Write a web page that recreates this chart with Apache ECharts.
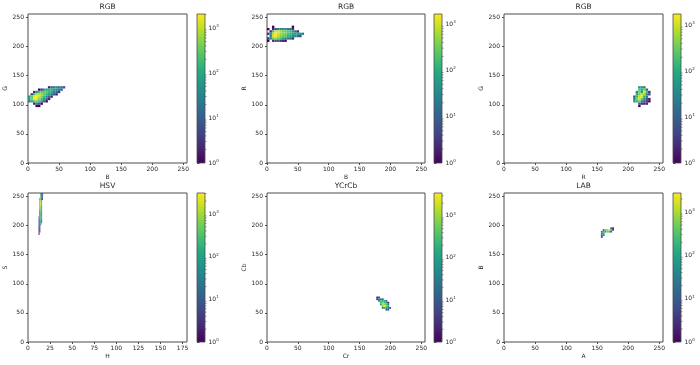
<!DOCTYPE html>
<html><head><meta charset="utf-8">
<script src="https://cdn.jsdelivr.net/npm/echarts@6/dist/echarts.min.js"></script>
<style>html,body{margin:0;padding:0;background:#fff}#c{width:700px;height:365px}</style>
</head><body><div id="c"></div>
<script>
const titles = ['RGB','RGB','RGB','HSV','YCrCb','LAB'];
const xNames = ['B','B','R','H','Cr','A'];
const yNames = ['G','R','G','S','Cb','B'];
const xMaxes = [256,256,256,180,256,256];
const yMax = 256;
const ticks256 = [0,50,100,150,200,250];
const ticksH = [0,25,50,75,100,125,150,175];
const cbMax = [2040,1650,1740,3100,3500,2750];
const cbMajor = [0,1,2,3];
const cbMinorMult = [2,3,4,5,6,7,8,9];

// 2D histogram blocks: x0,y0 = lower-left of lowest row; bin widths; rows listed top -> bottom
const rgb1X0 = 0, rgb1Y0 = 96, rgb1BW = [4,4];
const rgb1Counts = [
 [0,0,0,0,0,0,0,0,2,15,25,30,25,15,8],
 [0,0,0,0,1,3,40,80,120,100,60,40,20,10,0],
 [0,0,2,30,200,300,300,250,150,80,40,10,3,0,0],
 [0,5,150,800,900,500,300,120,60,20,5,2,0,0,0],
 [30,300,1500,2000,1000,400,150,40,10,2,0,0,0,0,0],
 [60,400,1800,1500,600,200,60,15,2,0,0,0,0,0,0],
 [20,100,300,400,250,80,10,1,0,0,0,0,0,0,0],
 [0,0,2,30,10,1,0,0,0,0,0,0,0,0,0],
 [0,0,0,1,1,0,0,0,0,0,0,0,0,0,0]
];
const rgb2X0 = 0, rgb2Y0 = 208, rgb2BW = [4,4];
const rgb2Counts = [
 [0,0,1,0,0,0,0,0,0,0,1,0,0,0,0],
 [1,0,2,5,20,30,40,30,20,10,3,0,0,0,0],
 [0,2,200,900,1200,600,400,300,250,150,60,10,2,0,0],
 [3,40,800,1600,1000,500,400,300,200,120,80,60,60,40,20],
 [0,30,1000,1500,800,400,300,200,120,80,40,30,15,4,0],
 [2,20,300,500,300,150,60,30,20,8,2,0,0,0,0],
 [1,0,3,8,10,3,2,1,0,0,0,0,0,0,0]
];
const rgb3X0 = 204, rgb3Y0 = 96, rgb3BW = [4,4];
const rgb3Counts = [
 [0,0,0,40,60,20,0,0],
 [0,0,0,200,100,300,10,0],
 [0,0,30,400,60,1500,200,3],
 [0,0,80,300,900,500,40,5],
 [0,5,150,800,1200,100,20,0],
 [0,20,400,1200,300,60,8,2],
 [0,40,150,300,40,10,3,1],
 [0,0,0,10,3,2,2,0],
 [0,0,0,1,0,0,0,0]
];
const hsvX0 = 12, hsvY0 = 184, hsvBW = [1,4];
const hsvCounts = [
 [0,0,30,8,5],
 [0,0,100,10,6],
 [0,20,400,6,4],
 [0,40,2000,100,0],
 [0,60,2500,200,0],
 [0,100,1500,150,0],
 [0,80,1000,80,0],
 [0,2,600,50,0],
 [0,1,400,40,0],
 [0,2,300,30,0],
 [5,60,200,40,0],
 [3,30,150,20,0],
 [2,20,100,10,0],
 [2,10,60,0,0],
 [1,8,0,0,0],
 [1,5,0,0,0],
 [1,3,0,0,0],
 [1,0,0,0,0]
];
const ycrcbX0 = 177, ycrcbY0 = 54, ycrcbBW = [3,3];
const ycrcbCounts = [
 [2,5,0,0,0,0,0,0],
 [3,30,40,10,0,0,0,0],
 [0,20,300,150,80,10,0,0],
 [0,0,200,600,300,100,1,0],
 [0,0,40,1500,800,300,30,0],
 [0,0,0,400,3000,500,60,0],
 [0,0,0,20,100,80,20,5],
 [0,0,0,0,0,5,8,0]
];
const labX0 = 156, labY0 = 179, labBW = [3,3];
const labCounts = [
 [0,0,0,0,0,20,3],
 [0,10,400,800,2700,300,5],
 [20,200,100,600,200,10,0],
 [30,80,0,0,0,0,0],
 [10,40,0,0,0,0,0],
 [5,0,0,0,0,0,0]
];

const blocks = [
 {x0: rgb1X0, y0: rgb1Y0, bw: rgb1BW, rows: rgb1Counts},
 {x0: rgb2X0, y0: rgb2Y0, bw: rgb2BW, rows: rgb2Counts},
 {x0: rgb3X0, y0: rgb3Y0, bw: rgb3BW, rows: rgb3Counts},
 {x0: hsvX0, y0: hsvY0, bw: hsvBW, rows: hsvCounts},
 {x0: ycrcbX0, y0: ycrcbY0, bw: ycrcbBW, rows: ycrcbCounts},
 {x0: labX0, y0: labY0, bw: labBW, rows: labCounts}
];
function toData(b){
  const out=[]; const n=b.rows.length;
  b.rows.forEach((row,i)=>row.forEach((c,j)=>{
    if(c>0) out.push([b.x0+j*b.bw[0], b.y0+(n-1-i)*b.bw[1], Math.log10(c)]);
  }));
  return out;
}

const viridis = ['#440154','#482475','#414487','#355f8d','#2a788e','#21918c','#22a884','#44bf70','#7ad151','#bddf26','#fde725'];
const FONT = 'DejaVu Sans';
const TXT = '#262626';
const LINE = '#4d4d4d';

const plotLeft = [28, 267, 504], plotW = [159, 158, 159];
const rowTop = [14, 193], plotH = 149;
const cbLeft = [197, 434, 673], cbW = 8;

const chart = echarts.init(document.getElementById('c'), null, {renderer:'canvas', width:700, height:365});
const grid=[], xAxis=[], yAxis=[], series=[], visualMap=[], title=[];

for (let i=0;i<6;i++){
  const col=i%3, row=Math.floor(i/3);
  grid.push({left:plotLeft[col], top:rowTop[row], width:plotW[col], height:plotH, show:true, borderColor:LINE, borderWidth:1, backgroundColor:'#fff'});
  title.push({text:titles[i], left:plotLeft[col]+plotW[col]/2, top:rowTop[row]-11, textAlign:'center', padding:0,
    textStyle:{fontSize:7.5, fontWeight:'normal', color:TXT, fontFamily:FONT}});
  const xt = xMaxes[i]===180 ? ticksH : ticks256;
  xAxis.push({type:'value', gridIndex:i, min:0, max:xMaxes[i], axisLine:{show:false}, splitLine:{show:false},
    axisTick:{show:true, length:2, customValues:xt, lineStyle:{color:LINE}},
    axisLabel:{customValues:xt, fontSize:6, margin:3, color:TXT, fontFamily:FONT},
    name:xNames[i], nameLocation:'middle', nameGap:11.5, nameTextStyle:{fontSize:6, color:TXT, fontFamily:FONT}});
  yAxis.push({type:'value', gridIndex:i, min:0, max:yMax, axisLine:{show:false}, splitLine:{show:false},
    axisTick:{show:true, length:2, customValues:ticks256, lineStyle:{color:LINE}},
    axisLabel:{customValues:ticks256, fontSize:6, margin:4, color:TXT, fontFamily:FONT},
    name:yNames[i], nameLocation:'middle', nameGap:18, nameTextStyle:{fontSize:6, color:TXT, fontFamily:FONT}});
  const b = blocks[i];
  series.push({type:'custom', xAxisIndex:i, yAxisIndex:i, clip:true, data:toData(b),
    encode:{x:0, y:1},
    renderItem:(params, api)=>{
      const x=api.value(0), y=api.value(1);
      const p0=api.coord([x, y+b.bw[1]]), p1=api.coord([x+b.bw[0], y]);
      return {type:'rect', shape:{x:p0[0], y:p0[1], width:p1[0]-p0[0], height:p1[1]-p0[1]}, style:{fill:api.visual('color')}};
    }});
  const lm = Math.log10(cbMax[i]);
  visualMap.push({type:'continuous', show:false, min:0, max:lm, dimension:2, seriesIndex:i, inRange:{color:viridis}});
}
for (let i=0;i<6;i++){
  const col=i%3, row=Math.floor(i/3);
  const gi = 6+i;
  const lm = Math.log10(cbMax[i]);
  grid.push({left:cbLeft[col], top:rowTop[row], width:cbW, height:plotH, show:false});
  xAxis.push({type:'value', gridIndex:gi, min:0, max:1, show:false});
  yAxis.push({type:'value', gridIndex:gi, min:0, max:lm, position:'right', axisLine:{show:false}, splitLine:{show:false},
    axisTick:{show:true, length:2.5, customValues:cbMajor, lineStyle:{color:LINE}},
    axisLabel:{customValues:cbMajor, margin:3.5, color:TXT, fontFamily:FONT,
      formatter:v=>'{a|10}{b|'+Math.round(v)+'}',
      rich:{a:{fontSize:6, color:TXT, fontFamily:FONT}, b:{fontSize:4, color:TXT, fontFamily:FONT, padding:[0,0,4,0]}}}});
  const stops = viridis.map((c,k)=>({offset:k/(viridis.length-1), color:c}));
  series.push({type:'custom', xAxisIndex:gi, yAxisIndex:gi, data:[[1, lm]], silent:true, z:3,
    renderItem:(params, api)=>{
      const p0=api.coord([0, api.value(1)]), p1=api.coord([api.value(0), 0]);
      return {type:'rect', shape:{x:p0[0], y:p0[1], width:p1[0]-p0[0], height:p1[1]-p0[1]},
        style:{fill:new echarts.graphic.LinearGradient(0,1,0,0,stops), stroke:LINE, lineWidth:0.8}};
    }});
  const minor=[];
  for (let n=0;n<4;n++) cbMinorMult.forEach(k=>{ const v=Math.log10(k*Math.pow(10,n)); if(v<lm) minor.push([1,v]); });
  series.push({type:'custom', xAxisIndex:gi, yAxisIndex:gi, data:minor, silent:true, z:4,
    renderItem:(params, api)=>{
      const p=api.coord([api.value(0), api.value(1)]);
      return {type:'line', shape:{x1:p[0], y1:p[1], x2:p[0]+1.5, y2:p[1]}, style:{stroke:LINE, lineWidth:0.6}};
    }});
}

chart.setOption({animation:false, backgroundColor:'#fff', title, grid, xAxis, yAxis, visualMap, series});
</script>
</body></html>
